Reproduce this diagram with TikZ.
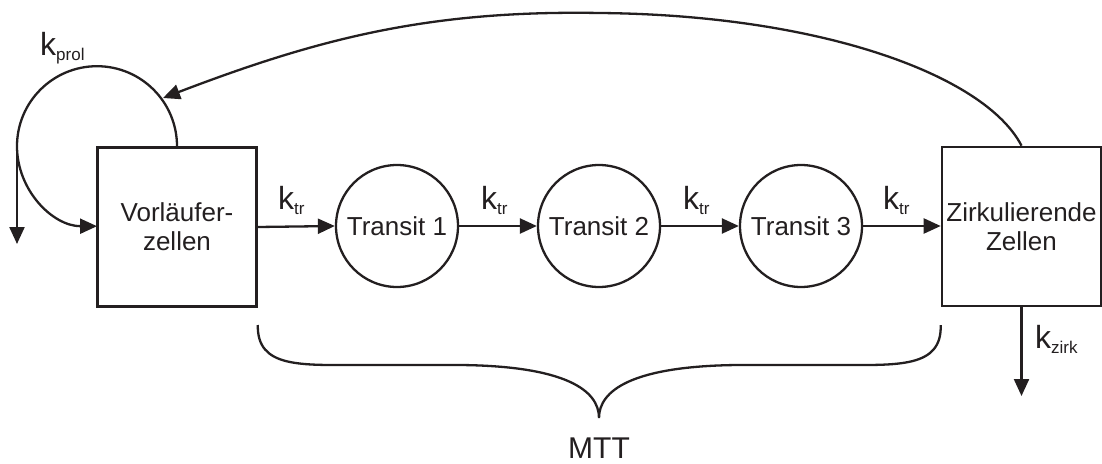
\documentclass[tikz,border=0pt]{standalone}
\usepackage{fontspec}
\setmainfont{Liberation Sans}
\usetikzlibrary{arrows.meta}
\definecolor{ink}{HTML}{231F20}
\begin{document}
\begin{tikzpicture}[x=1pt,y=1pt,
  line/.style={draw=ink,line width=2.3pt},
  arr/.style={line,-{Triangle[length=17pt,width=15pt]}},
  boxnode/.style={draw=ink,line width=2.6pt,minimum width=159pt,minimum height=159pt,inner sep=0pt,align=center,font=\fontsize{26}{29}\selectfont,text=ink},
  transit/.style={draw=ink,line width=2.3pt,circle,minimum size=122pt,inner sep=0pt,font=\fontsize{26}{29}\selectfont,text=ink},
  rate/.style={anchor=base west,inner sep=0pt,text=ink},
  ]
\useasboundingbox (0,0) rectangle (1102,-463);
\newcommand{\kr}[1]{\fontsize{32}{32}\selectfont k\raisebox{-5pt}{\fontsize{17}{17}\selectfont #1}}

\node[boxnode] (vz) at (177,-227) {Vorläufer-\\zellen};
\node[transit] (t1) at (397,-226) {Transit 1};
\node[transit] (t2) at (599,-226) {Transit 2};
\node[transit] (t3) at (801,-226) {Transit 3};
\node[boxnode] (zz) at (1021.5,-226.5) {Zirkulierende\\Zellen};

\draw[arr] (vz.east |- 0,-227) -- (t1.west);
\draw[arr] (t1.east) -- (t2.west);
\draw[arr] (t2.east) -- (t3.west);
\draw[arr] (t3.east) -- (zz.west |- 0,-226);

\node[rate] (k1) at (278,-209) {\kr{tr}};
\node[rate] (k2) at (481,-209) {\kr{tr}};
\node[rate] (k3) at (683,-209) {\kr{tr}};
\node[rate] (k4) at (883,-209) {\kr{tr}};

% self loop
\coordinate (loopstart) at (vz.north);
\coordinate (loopleft) at (17,-147);
\coordinate (loopout) at (17,-244);
\draw[arr] (loopstart) arc[start angle=0,end angle=270,radius=80];
\draw[arr] (loopleft) -- (loopout);
\node[rate] (kp) at (40,-55) {\kr{prol}};

% feedback
\coordinate (fbend) at (163,-98);
\draw[arr] (zz.north) .. controls (985,-75) and (820,-15) .. (600,-13)
  .. controls (430,-10) and (320,-38) .. (fbend);

% outflow
\coordinate (zout) at (1021.5,-396);
\draw[arr] (zz.south) -- (zout);
\node[rate] (kz) at (1035,-348) {\kr{zirk}};

% brace
\coordinate (bl) at (vz.east |- 0,-325);
\coordinate (br) at (zz.west |- 0,-325);
\coordinate (btip) at (599,-418);
\draw[line] (bl) .. controls (257,-368) and (300,-365) .. (360,-365) -- (460,-365)
  .. controls (565,-366) and (599,-390) .. (btip)
  .. controls (599,-390) and (633,-366) .. (738,-365) -- (838,-365)
  .. controls (898,-365) and (942,-368) .. (br);
\node[anchor=base,inner sep=0pt,text=ink,font=\fontsize{30}{30}\selectfont] (mtt) at (599,-458) {MTT};
\end{tikzpicture}
\end{document}
